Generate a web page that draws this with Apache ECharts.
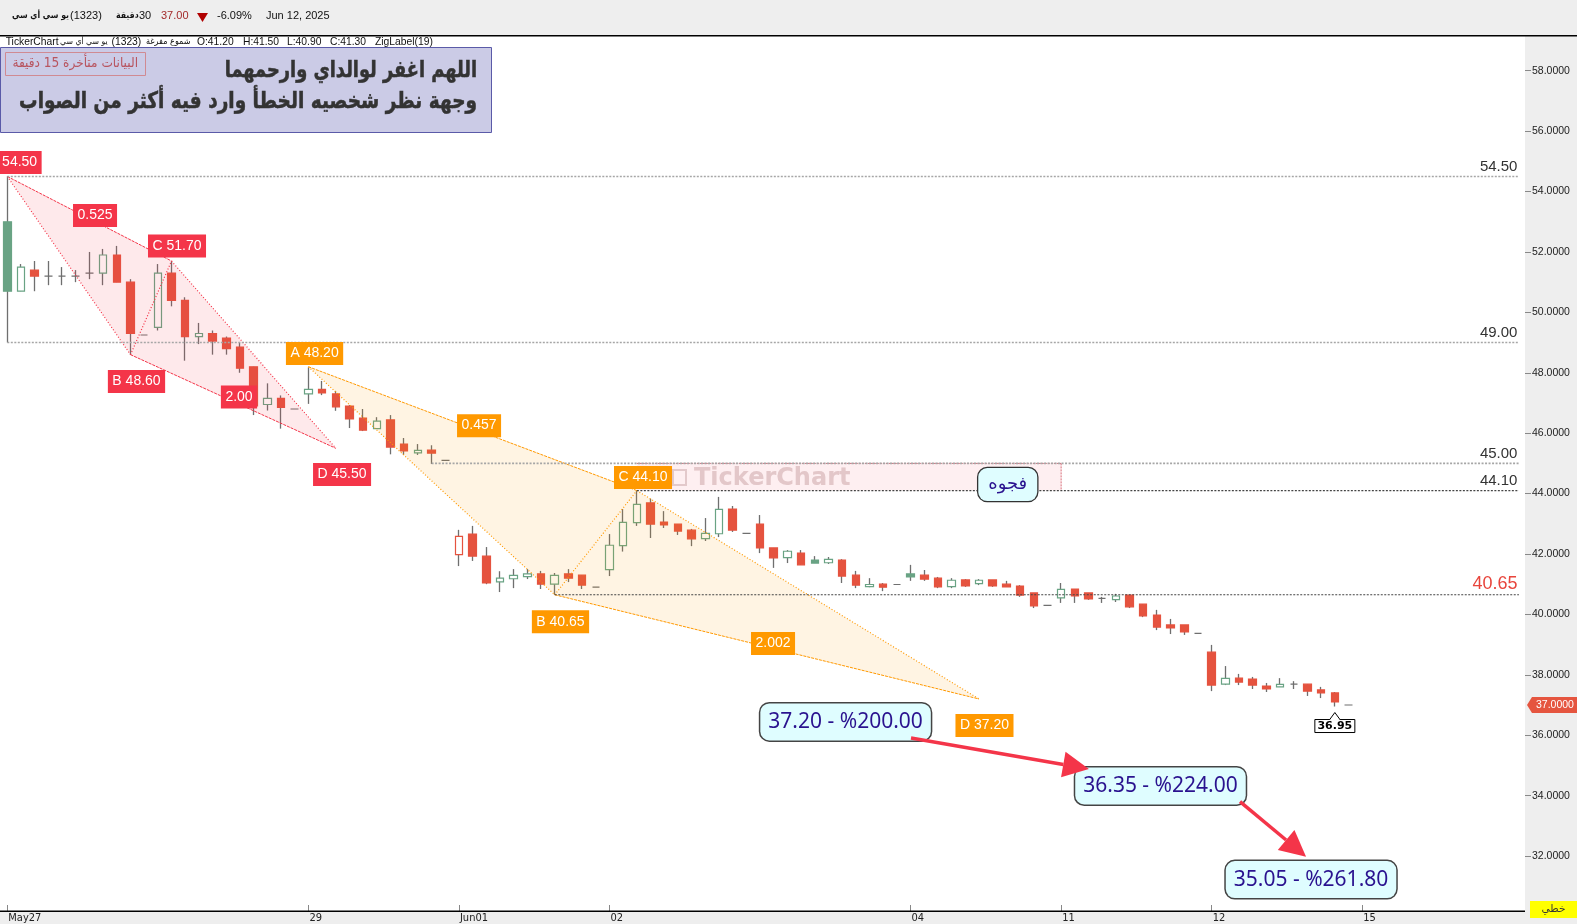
<!DOCTYPE html>
<html><head><meta charset="utf-8">
<style>html,body{margin:0;padding:0;background:#fff}#c{width:1577px;height:924px}</style>
<script src="https://cdn.jsdelivr.net/npm/echarts@6/dist/echarts.min.js"></script>
</head><body><div id="c"></div>
<script>
const opens=[53.0,50.7,51.4,51.2,51.2,51.2,51.3,51.3,51.9,51.0,49.25,49.5,51.3,50.4,49.2,49.3,49.15,48.85,48.2,46.95,47.15,46.8,47.3,47.45,47.3,46.9,46.5,46.15,46.44,45.64,45.35,45.44,45.1,41.98,42.66,41.93,41.08,41.18,41.25,41.34,41.0,41.34,41.3,40.9,41.48,42.28,43.04,43.69,43.06,42.99,42.79,42.51,42.67,43.49,42.68,42.99,42.2,41.88,42.03,41.8,41.71,41.8,41.3,40.92,41.0,40.99,41.34,41.3,41.2,40.92,41.14,41.02,41.14,41.0,40.94,40.71,40.3,40.55,40.84,40.71,40.53,40.49,40.64,40.34,39.98,39.65,39.65,39.37,38.75,37.69,37.89,37.86,37.63,37.6,37.69,37.69,37.5,37.4,37.0];
const closes=[50.7,51.5,51.2,51.2,51.2,51.2,51.3,51.9,51.0,49.3,49.25,51.3,50.4,49.2,49.3,49.05,48.8,48.15,46.9,47.15,46.85,46.8,47.45,47.33,46.87,46.47,46.1,46.4,45.54,45.41,45.43,45.34,45.1,42.58,41.93,41.04,41.2,41.29,41.34,41.0,41.29,41.2,40.97,40.9,42.29,43.05,43.64,42.99,42.96,42.76,42.5,42.68,43.48,42.79,42.68,42.2,41.87,42.09,41.64,41.7,41.82,41.27,40.97,40.99,40.9,40.99,41.24,41.17,40.91,41.13,40.94,41.13,40.94,40.91,40.64,40.28,40.3,40.83,40.61,40.51,40.53,40.61,40.25,39.95,39.58,39.55,39.42,39.37,37.66,37.88,37.76,37.66,37.53,37.68,37.69,37.46,37.4,37.1,37.0];
const highs=[54.5,51.6,51.7,51.7,51.5,51.4,52.0,52.1,52.2,51.1,49.25,51.6,51.7,50.5,49.65,49.4,49.2,49.0,48.2,47.65,47.25,46.8,48.18,47.73,47.4,46.93,46.8,46.53,46.6,45.84,45.64,45.6,45.1,42.8,42.93,42.23,41.43,41.5,41.5,41.44,41.37,41.5,41.3,40.9,42.66,43.49,44.1,43.83,43.42,42.99,42.83,43.19,43.89,43.59,42.68,43.29,42.2,42.13,42.13,41.93,41.9,41.83,41.44,41.2,41.04,40.99,41.64,41.47,41.24,41.2,41.17,41.17,41.14,41.11,40.97,40.71,40.3,41.04,40.84,40.71,40.58,40.68,40.64,40.34,40.15,39.85,39.65,39.37,38.99,38.29,38.03,37.93,37.73,37.89,37.79,37.69,37.6,37.43,37.0];
const lows=[49.0,50.7,50.7,50.9,50.9,51.0,51.1,50.9,51.0,48.6,49.25,49.4,50.2,48.4,48.95,48.6,48.6,48.0,46.6,46.75,46.15,46.8,46.97,47.26,46.74,46.17,46.07,46.15,45.3,45.28,45.28,44.98,45.1,41.6,41.77,41.0,40.74,40.87,41.17,40.84,40.65,41.07,40.84,40.9,41.27,42.08,42.93,42.53,42.86,42.63,42.26,42.43,42.56,42.73,42.68,42.03,41.54,41.7,41.64,41.7,41.67,41.04,40.87,40.9,40.77,40.99,41.11,41.11,40.87,40.87,40.91,40.97,40.91,40.91,40.58,40.21,40.3,40.38,40.38,40.48,40.38,40.41,40.21,39.91,39.48,39.35,39.32,39.37,37.46,37.66,37.66,37.53,37.43,37.6,37.53,37.3,37.23,36.95,37.0];

const tickIndexes=[0,22,33,44,66,77,88,99];
const tickLabels=['May27','29','Jun01','02','04','11','12','15'];
const priceTicks=[32,34,36,38,40,42,44,46,48,50,52,54,56,58];
const slotCount=111;
const categories=Array.from({length:slotCount},(_,i)=>String(i));

const redPattern={X:[0,54.5],B:[9,48.6],C:[12,51.7],D:[24,45.5]};
const orangePattern={X:[22,48.2],B:[40,40.65],C:[46,44.1],D:[71,37.2]};
const gapZone=[46,77,45,44.1];
const levels=[[0,54.5,'54.50'],[0,49,'49.00'],[31,45,'45.00'],[46,44.1,'44.10'],[40,40.65,'40.65']];
const redTags=[[0.9,54.96,'54.50'],[6.41,53.21,'0.525'],[12.4,52.2,'C 51.70'],[9.44,47.71,'B 48.60'],[16.93,47.2,'2.00'],[24.46,44.63,'D 45.50']];
const orangeTags=[[22.45,48.64,'A 48.20'],[34.47,46.25,'0.457'],[46.45,44.53,'C 44.10'],[40.42,39.76,'B 40.65'],[55.95,39.04,'2.002'],[71.4,36.32,'D 37.20']];
const fibTags=[[61.25,36.44,'37.20 - %200.00'],[84.26,34.32,'36.35 - %224.00'],[95.26,31.22,'35.05 - %261.80']];
const gapTag=[[73.1,44.3,'فجوه']];
const arrows=[[66.03,35.91,79.03,34.88],[90.07,33.8,94.9,31.98]];
const lastPrice=37;
const lowCallout=[97,36.95,'36.95'];

const GREEN='#69a384',RED='#e5533f',GREY='#6f6f6f',ORANGE='#ff9900',PINK='#f43549';
const xEnd=110.45;

function lineEl(a,b,stroke,w,dash){return {type:'line',shape:{x1:a[0],y1:a[1],x2:b[0],y2:b[1]},style:{stroke,lineWidth:w,lineDash:dash,fill:null}};}
function patternSeries(p,stroke,fill,z){
  return {type:'custom',xAxisIndex:1,z,silent:true,data:[p.X],encode:{x:0,y:1},
    renderItem(params,api){
      const [X,B,C,D]=[p.X,p.B,p.C,p.D].map(q=>api.coord(q));
      return {type:'group',children:[
        {type:'polygon',shape:{points:[X,C,D,B]},style:{fill}},
        lineEl(X,C,stroke,1,[3,1]),lineEl(B,D,stroke,1,[3,1]),
        lineEl(X,B,stroke,1.2,[1,2]),lineEl(C,D,stroke,1.2,[1,2]),lineEl(B,C,stroke,1.2,[1,2])
      ]};
    }};
}
function tagSeries(data,bg,font,extra){
  return {type:'scatter',xAxisIndex:1,z:6,silent:true,symbolSize:1,itemStyle:{color:'transparent',opacity:1},data,encode:{x:0,y:1},
    label:Object.assign({show:true,opacity:1,position:'inside',formatter:p=>p.data[2],backgroundColor:bg,color:'#fff',fontFamily:'Liberation Sans',fontSize:14,lineHeight:23,padding:[0,4.5]},font,extra)};
}
const candleItems=opens.map((o,i)=>{
  const c=closes[i];
  if(o===c) return {value:[o,c,o,c],itemStyle:{color:GREY,color0:GREY,borderColor:GREY,borderColor0:GREY,borderColorDoji:GREY}};
  const col=(i===0||c>=closes[i-1])?GREEN:RED;
  const fill=c<o?col:'#ffffff';
  return {value:[o,c,Math.min(o,c),Math.max(o,c)],itemStyle:{color:fill,color0:fill,borderColor:col,borderColor0:col,borderColorDoji:col}};
});
const wickItems=opens.map((o,i)=>[o,closes[i],lows[i],highs[i]]);

function T(x,y,text,font,fill,align,z,extra){
  const e=Object.assign({type:'text',x,y,z:z||60,silent:true,style:{text,font,fill,align:align||'left',textAlign:align||'left',verticalAlign:'middle',textVerticalAlign:'middle'}},extra||{});
  if(extra&&extra.heavy){e.style.stroke=fill;e.style.lineWidth=0.5;delete e.heavy;}
  return e;
}
const BAR='#eeeeee';
const AR='"DejaVu Sans Condensed","DejaVu Sans"';
const graphics=[
  {type:'rect',z:-5,silent:true,shape:{x:0,y:0,width:1577,height:35},style:{fill:BAR}},
  {type:'rect',z:-5,silent:true,shape:{x:1525,y:0,width:52,height:924},style:{fill:BAR}},
  {type:'rect',z:-5,silent:true,shape:{x:0,y:911,width:1577,height:13},style:{fill:BAR}},
  {type:'rect',z:60,silent:true,shape:{x:0,y:35,width:1577,height:1.4},style:{fill:'#000'}},
  {type:'rect',z:60,silent:true,shape:{x:0,y:910.5,width:1525,height:1.4},style:{fill:'#000'}},
  T(12,16,'يو سي أي سي','bold 8.7px '+AR,'#111'),
  T(70,16,'(1323)','11px "Liberation Sans"','#111'),
  T(116,16,'دقيقة','bold 8.7px '+AR,'#111'),
  T(139,16,'30','11px "Liberation Sans"','#111'),
  T(161,16,'37.00','11px "Liberation Sans"','#a32a2a'),
  {type:'polygon',z:60,silent:true,shape:{points:[[197,13],[208,13],[202.5,22]]},style:{fill:'#b00000'}},
  T(217,16,'-6.09%','11px "Liberation Sans"','#111'),
  T(266,16,'Jun 12, 2025','11px "Liberation Sans"','#111'),
  T(5.7,41.8,'TickerChart','10.3px "Liberation Sans"','#111'),
  T(60,41.8,'يو سي أي سي','8.6px '+AR,'#111'),
  T(111.5,41.8,'(1323)','10.3px "Liberation Sans"','#111'),
  T(146,41.8,'شموع مفرغة','9px '+AR,'#111'),
  T(197,41.8,'O:41.20','10.3px "Liberation Sans"','#111'),
  T(243,41.8,'H:41.50','10.3px "Liberation Sans"','#111'),
  T(287,41.8,'L:40.90','10.3px "Liberation Sans"','#111'),
  T(330,41.8,'C:41.30','10.3px "Liberation Sans"','#111'),
  T(375,41.8,'ZigLabel(19)','10.3px "Liberation Sans"','#111'),
  {type:'rect',z:50,silent:true,shape:{x:0.5,y:47.5,width:491,height:85},style:{fill:'#cbcbe6',stroke:'#5a5aa8',lineWidth:1}},
  {type:'rect',z:51,silent:true,shape:{x:5.5,y:52.5,width:140,height:23},style:{fill:'#cbcbe6',stroke:'#d08a92',lineWidth:1}},
  T(138,63.5,'البيانات متأخرة 15 دقيقة','13.5px '+AR,'#b85560','right',52),
  T(477,71.5,'اللهم اغفر لوالداي وارحمهما','bold 23px '+AR,'#333','right',52,{scaleX:0.86,heavy:true}),
  T(477,102.5,'وجهة نظر شخصيه الخطأ وارد فيه أكثر من الصواب','bold 23px '+AR,'#333','right',52,{scaleX:0.895,heavy:true}),
  {type:'rect',z:2,silent:true,shape:{x:673,y:470,width:13,height:15},style:{fill:'rgba(0,0,0,0)',stroke:'#e2d6d6',lineWidth:2}},
  T(694,478.5,'TickerChart','bold 24px "DejaVu Sans"','#e2d4d4','left',2),
  {type:'rect',z:60,silent:true,shape:{x:1530,y:901,width:47,height:17},style:{fill:'#ffff00'}},
  T(1553.5,909.5,'خطي','10.5px "DejaVu Sans"','#333','center',61)
];

const option={
  animation:false,backgroundColor:'#ffffff',
  tooltip:{show:false},
  grid:{left:0.46,top:36,width:slotCount*13.686,height:875,containLabel:false},
  xAxis:[
    {type:'category',data:categories,z:10,boundaryGap:true,
      axisLine:{show:false,onZero:false},
      axisTick:{show:true,inside:true,length:6,alignWithLabel:true,interval:i=>tickIndexes.includes(i),lineStyle:{color:'#888',width:1}},
      axisLabel:{show:true,interval:i=>tickIndexes.includes(i),formatter:(v,i)=>{const k=tickIndexes.indexOf(+v);return k<0?'':tickLabels[k];},
        align:'left',margin:2,fontSize:11,color:'#222',fontFamily:'"DejaVu Sans Condensed","DejaVu Sans"',padding:[0,0,0,1]},
      splitLine:{show:false}},
    {type:'value',show:false,min:-0.5,max:slotCount-0.5,axisLine:{onZero:false},splitLine:{show:false}}
  ],
  yAxis:{type:'value',position:'right',offset:5.4,min:30.18,max:59.15,scale:true,z:10,
    axisLine:{show:false,onZero:false},
    axisTick:{show:true,length:6,customValues:priceTicks,lineStyle:{color:'#888'}},
    axisLabel:{show:true,customValues:priceTicks,formatter:v=>v.toFixed(4),margin:7,fontSize:10.5,color:'#222',fontFamily:'Liberation Sans'},
    splitLine:{show:false}},
  graphic:{elements:graphics},
  series:[
    {type:'candlestick',name:'wick',z:2,barWidth:1,silent:true,data:wickItems,
      itemStyle:{color:GREY,color0:GREY,borderColor:GREY,borderColor0:GREY,borderColorDoji:GREY,borderWidth:1.3}},
    {type:'candlestick',name:'body',z:3,barWidth:8,silent:true,data:candleItems,
      itemStyle:{borderWidth:1.2}},
    {type:'custom',xAxisIndex:1,z:4,silent:true,data:[[gapZone[0],gapZone[2]]],encode:{x:0,y:1},
      renderItem(params,api){
        const a=api.coord([gapZone[0],gapZone[2]]),b=api.coord([gapZone[1],gapZone[2]]),c=api.coord([gapZone[1],gapZone[3]]),d=api.coord([gapZone[0],gapZone[3]]);
        return {type:'group',children:[
          {type:'polygon',shape:{points:[a,b,c,d]},style:{fill:'rgba(244,53,73,0.08)'}},
          lineEl(b,c,'#d8707c',1,[2,1]),lineEl(a,b,'#c8707c',1,[2,1])
        ]};
      }},
    patternSeries(redPattern,PINK,'rgba(244,53,73,0.11)',5),
    patternSeries(orangePattern,ORANGE,'rgba(255,153,0,0.11)',5),
    {type:'custom',xAxisIndex:1,z:5,silent:true,data:levels.map(l=>[l[0],l[1]]),encode:{x:0,y:1},
      renderItem(params,api){
        const l=levels[params.dataIndex];
        const a=api.coord([l[0],l[1]]),b=api.coord([xEnd,l[1]]);
        const dark=l[1]===40.65||l[1]===44.1;
        return {type:'group',children:[
          lineEl(a,b,dark?'#444':'#a6a6a6',dark?1.2:1.6,[2,1.5]),
          {type:'text',style:{x:b[0]-1.5,y:a[1]-(l[1]===40.65?11:9.5),text:l[2],align:'right',verticalAlign:'middle',
            fill:l[1]===40.65?'#e8453c':'#333',font:(l[1]===40.65?'18px':'15px')+' "Liberation Sans"'}}
        ]};
      }},
    tagSeries(redTags,PINK),
    tagSeries(orangeTags,ORANGE),
    tagSeries(fibTags,'#dffdff',{color:'#2a128f',fontFamily:'Noto Sans',fontSize:21,lineHeight:37,padding:[0,8],borderColor:'#444',borderWidth:1.5,borderRadius:9}),
    tagSeries(gapTag,'#dffdff',{color:'#2a128f',fontFamily:'DejaVu Sans',fontSize:18,lineHeight:33,padding:[0,10],borderColor:'#333',borderWidth:1.3,borderRadius:9}),
    {type:'custom',xAxisIndex:1,z:7,silent:true,data:arrows.map(a=>[a[0],a[1]]),encode:{x:0,y:1},
      renderItem(params,api){
        const r=arrows[params.dataIndex];
        const a=api.coord([r[0],r[1]]),b=api.coord([r[2],r[3]]);
        const dx=b[0]-a[0],dy=b[1]-a[1],L=Math.hypot(dx,dy),ux=dx/L,uy=dy/L;
        const hl=26,hw=13;
        const base=[b[0]-ux*hl,b[1]-uy*hl];
        return {type:'group',children:[
          lineEl(a,base,PINK,3.5),
          {type:'polygon',shape:{points:[b,[base[0]-uy*hw,base[1]+ux*hw],[base[0]+uy*hw,base[1]-ux*hw]]},style:{fill:PINK}}
        ]};
      }},
    {type:'custom',xAxisIndex:1,z:7,silent:true,data:[[lowCallout[0],lowCallout[1]]],encode:{x:0,y:1},
      renderItem(params,api){
        const p=api.coord([lowCallout[0],lowCallout[1]]);
        const cx=p[0],ty=p[1]+6,by=ty+7;
        return {type:'group',children:[
          {type:'rect',shape:{x:cx-20,y:by,width:40,height:13},style:{fill:'#fff',stroke:'#000',lineWidth:1}},
          {type:'polyline',shape:{points:[[cx-5.5,by+0.5],[cx,ty],[cx+5.5,by+0.5]]},style:{fill:'#fff',stroke:'#000',lineWidth:1}},
          {type:'text',style:{x:cx,y:by+6.8,text:lowCallout[2],align:'center',verticalAlign:'middle',fill:'#000',font:'bold 11px "DejaVu Sans"'}}
        ]};
      }},
    {type:'custom',xAxisIndex:1,z:8,silent:true,data:[[98,lastPrice]],encode:{x:0,y:1},
      renderItem(params,api){
        const y=api.coord([98,lastPrice])[1];
        return {type:'group',children:[
          {type:'polygon',shape:{points:[[1527,y],[1532,y-8],[1577,y-8],[1577,y+8],[1532,y+8]]},style:{fill:'#e5553f'}},
          {type:'text',style:{x:1536,y:y+0.5,text:lastPrice.toFixed(4),align:'left',verticalAlign:'middle',fill:'#fff',font:'10.5px "Liberation Sans"'}}
        ]};
      }}
  ]
};
echarts.init(document.getElementById('c')).setOption(option);
</script></body></html>
